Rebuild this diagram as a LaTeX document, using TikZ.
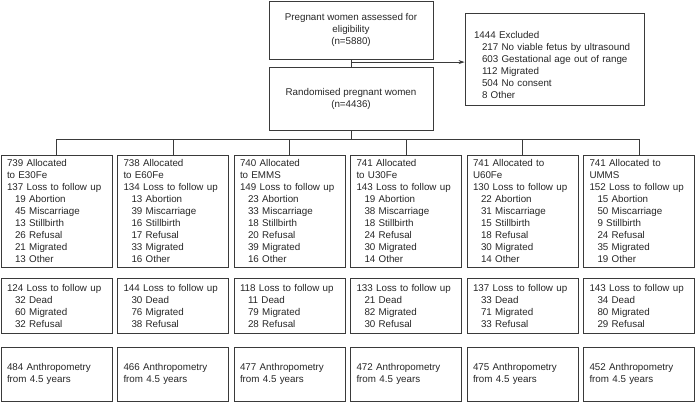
\documentclass[tikz,border=0pt]{standalone}
\usepackage{fontspec}
\setmainfont{Liberation Sans}
\usetikzlibrary{arrows.meta,positioning,calc}
\definecolor{boxline}{HTML}{3A3A3A}
\newcommand{\sublbl}{\hspace*{8pt}}

\begin{document}
\begin{tikzpicture}[x=1pt, y=-1pt,
  every node/.style={font=\fontsize{9.8}{12}\selectfont, text=black!85},
  flowbox/.style={draw=boxline, line width=0.8pt, inner xsep=6pt, inner ysep=2pt,
    align=left, text width=99pt, minimum height=#1},
  flowbox/.default=54pt,
  link/.style={draw=boxline, line width=0.8pt}]
  \useasboundingbox (0,0) rectangle (696,403);

  % Enrolment
  \node[draw=boxline, line width=0.8pt, minimum width=164pt, minimum height=58pt, align=center]
    (assess) at (351,30) {Pregnant women assessed for\\eligibility\\(n=5880)};
  \node[draw=boxline, line width=0.8pt, minimum width=164pt, minimum height=63pt, align=center]
    (rand) at (351,98.5) {Randomised pregnant women\\(n=4436)};
  \node[draw=boxline, line width=0.8pt, inner xsep=9pt, text width=161pt, minimum height=92pt, align=left]
    (excl) at (554.5,59) {\rule{0pt}{19pt}1444 Excluded\\
      \sublbl 217 No viable fetus by ultrasound\\
      \sublbl 603 Gestational age out of range\\
      \sublbl 112 Migrated\\
      \sublbl 504 No consent\\
      \sublbl 8 Other};

  \draw[link] (assess.south) -- (rand.north);
  \coordinate (split) at ($(assess.south)!0.375!(rand.north)$);
  \draw[link, -{Stealth[length=6pt,width=4pt]}] (split) -- (split -| excl.west);

  % Allocation arms
  \foreach \i/\txt in {
    1/{739 Allocated\\to E30Fe\\137 Loss to follow up\\\sublbl 19 Abortion\\\sublbl 45 Miscarriage\\\sublbl 13 Stillbirth\\\sublbl 26 Refusal\\\sublbl 21 Migrated\\\sublbl 13 Other},
    2/{738 Allocated\\to E60Fe\\134 Loss to follow up\\\sublbl 13 Abortion\\\sublbl 39 Miscarriage\\\sublbl 16 Stillbirth\\\sublbl 17 Refusal\\\sublbl 33 Migrated\\\sublbl 16 Other},
    3/{740 Allocated\\to EMMS\\149 Loss to follow up\\\sublbl 23 Abortion\\\sublbl 33 Miscarriage\\\sublbl 18 Stillbirth\\\sublbl 20 Refusal\\\sublbl 39 Migrated\\\sublbl 16 Other},
    4/{741 Allocated\\to U30Fe\\143 Loss to follow up\\\sublbl 19 Abortion\\\sublbl 38 Miscarriage\\\sublbl 18 Stillbirth\\\sublbl 24 Refusal\\\sublbl 30 Migrated\\\sublbl 14 Other},
    5/{741 Allocated to\\U60Fe\\130 Loss to follow up\\\sublbl 22 Abortion\\\sublbl 31 Miscarriage\\\sublbl 15 Stillbirth\\\sublbl 18 Refusal\\\sublbl 30 Migrated\\\sublbl 14 Other},
    6/{741 Allocated to\\UMMS\\152 Loss to follow up\\\sublbl 15 Abortion\\\sublbl 50 Miscarriage\\\sublbl 9 Stillbirth\\\sublbl 24 Refusal\\\sublbl 35 Migrated\\\sublbl 19 Other}}
    \node[flowbox=112pt] (alloc\i) at ({56.5+116.5*(\i-1)},211) {\txt};

  % Later losses
  \foreach \i/\a/\b/\c/\d in {1/124/32/60/32, 2/144/30/76/38, 3/118/11/79/28,
                              4/133/21/82/30, 5/137/33/71/33, 6/143/34/80/29}
    \node[flowbox=55pt] (loss\i) at ({56.5+116.5*(\i-1)},305.5)
      {\a\ Loss to follow up\\\sublbl \b\ Dead\\\sublbl \c\ Migrated\\\sublbl \d\ Refusal};

  % Follow-up at 4.5 years
  \foreach \i/\n in {1/484, 2/466, 3/477, 4/472, 5/475, 6/452}
    \node[flowbox=54pt] (anthro\i) at ({56.5+116.5*(\i-1)},374)
      {\n\ Anthropometry\\from 4.5 years};

  % Branching bar
  \draw[link] (rand.south) -- ++(0,9) coordinate (bar);
  \foreach \i in {1,...,6}
    \draw[link] (alloc\i.north) |- (bar);
\end{tikzpicture}
\end{document}
